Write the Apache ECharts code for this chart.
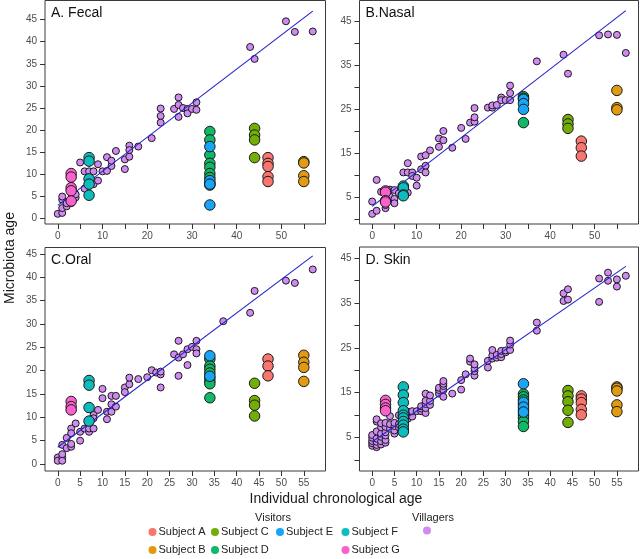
<!DOCTYPE html>
<html>
<head>
<meta charset="utf-8">
<script src="https://cdn.jsdelivr.net/npm/echarts@6/dist/echarts.min.js"></script>
<style>
html,body{margin:0;padding:0;background:#fff;}
#chart{width:640px;height:559px;}
</style>
</head>
<body>
<div id="chart"></div>
<script>
// ---------- DATA ----------
const panelTitles = ['A. Fecal', 'B.Nasal', 'C.Oral', 'D. Skin'];
const subjects = ['Subject A', 'Subject B', 'Subject C', 'Subject D', 'Subject E', 'Subject F', 'Subject G'];
const subjectAges = [47, 55, 44, 34, 34, 7, 3];
const xTicks = [0, 5, 10, 15, 20, 25, 30, 35, 40, 45, 50, 55];
const xLabelsTop = [0, 10, 20, 30, 40, 50];
const xLabelsBottom = [0, 5, 10, 15, 20, 25, 30, 35, 40, 45, 50, 55];
const yTicks = [0, 5, 10, 15, 20, 25, 30, 35, 40, 45];
const yLabelsA = [0, 5, 10, 15, 20, 25, 30, 35, 40, 45];
const yLabelsB = [5, 15, 25, 35, 45];
const yLabelsC = [0, 5, 10, 15, 20, 25, 30, 35, 40, 45];
const yLabelsD = [5, 15, 25, 35, 45];

// villagers: [chronological age, microbiota age]
const villagersFecal = [[0,1.1],[1,1.3],[1,2.4],[1,4.3],[1,5.0],[2,2.8],[2,3.5],[3,3.5],[3,5.8],[3,7.3],[4,4.8],[4,5.5],[5,12.7],[6,6.8],[6,10.7],[7,8.5],[7,10.7],[8,10.7],[8,7.8],[9,8.6],[9,12.3],[10,10.7],[11,10.8],[11,13.9],[12,11.9],[12,13.1],[13,15.3],[15,13.4],[15,11.2],[16,16.5],[16,15.5],[16,14.0],[18,16.3],[21,18.2],[23,24.9],[23,23.2],[23,21.7],[26,24.8],[27,27.4],[27,25.7],[27,23.0],[28,25.0],[29,24.8],[29,23.8],[30,24.8],[31,26.3],[31,24.6],[43,38.8],[44,36.1],[51,44.6],[53,42.2],[57,42.3]];
const villagersNasal = [[0,1.3],[0,4.1],[1,9.0],[1,2.0],[2,6.3],[3,4.5],[3,2.6],[3,3.3],[4,5.2],[4,6.8],[5,4.7],[5,3.7],[5,6.7],[6,6.0],[7,10.7],[8,12.8],[8,10.7],[8,6.1],[9,10.7],[9,9.9],[10,9.5],[10,7.7],[11,14.3],[11,11.4],[12,14.6],[12,12.2],[12,10.7],[13,15.7],[15,16.5],[15,18.4],[16,18.0],[16,20.1],[18,16.3],[20,20.8],[21,18.3],[22,22.0],[23,22.2],[23,23.2],[23,25.3],[26,25.4],[27,25.4],[27,25.9],[28,26.0],[29,27.7],[29,27.1],[30,27.1],[31,30.4],[31,28.7],[31,27.1],[37,35.9],[43,37.4],[44,33.1],[51,41.8],[53,42.0],[55,41.9],[57,37.8]];
const villagersOral = [[0,1.4],[0,0.7],[1,1.4],[1,0.7],[1,2.1],[1,4.1],[2,5.6],[2,3.4],[3,7.6],[3,6.6],[3,3.7],[3,4.3],[4,8.7],[5,5.0],[5,6.9],[6,7.6],[7,6.9],[7,7.6],[8,7.6],[8,10.5],[8,9.8],[9,11.6],[10,16.1],[10,14.1],[11,9.6],[11,11.2],[12,11.2],[12,12.8],[12,14.6],[13,14.6],[13,12.3],[15,16.4],[15,15.4],[16,17.1],[16,18.5],[18,18.2],[20,18.6],[21,20.1],[22,19.6],[23,19.2],[23,16.4],[23,19.8],[26,23.5],[27,26.4],[27,18.9],[27,22.8],[28,23.5],[29,21.2],[29,24.6],[30,25.1],[31,26.4],[31,24.6],[31,23.7],[37,30.6],[43,32.4],[44,37.1],[51,39.3],[53,38.8],[57,41.7]];
const villagersSkin = [[0,3.2],[0,3.8],[0,4.3],[0,5.0],[0,5.6],[1,2.9],[1,3.4],[1,4.1],[1,4.8],[1,6.4],[1,8.6],[1,9.1],[2,3.5],[2,4.2],[2,5.2],[2,5.9],[2,7.3],[2,8.2],[3,3.9],[3,4.5],[3,5.5],[3,6.2],[3,7.4],[3,8.3],[4,7.0],[4,8.0],[4,9.8],[5,5.9],[5,6.6],[5,7.6],[5,8.3],[6,7.3],[6,8.0],[6,10.0],[7,7.6],[8,9.2],[8,10.0],[8,10.8],[9,9.7],[9,10.9],[10,10.9],[11,10.9],[11,11.5],[11,12.0],[12,10.5],[12,11.6],[12,12.5],[12,13.2],[12,14.8],[13,12.3],[13,13.2],[13,14.4],[15,14.8],[15,15.6],[15,16.1],[16,14.1],[16,15.6],[16,16.5],[16,17.0],[16,17.6],[18,14.8],[20,15.7],[20,17.8],[21,19.1],[22,21.9],[22,22.6],[23,18.8],[23,19.8],[23,20.4],[23,21.3],[26,20.6],[26,22.1],[27,22.6],[27,23.3],[27,24.5],[28,22.8],[28,23.4],[29,22.9],[29,23.6],[29,24.3],[30,24.0],[30,24.4],[31,24.5],[31,25.7],[31,26.6],[37,28.8],[37,30.6],[43,35.4],[43,37.1],[44,35.7],[44,38.0],[51,35.2],[51,40.4],[53,39.9],[53,41.7],[55,38.6],[55,40.2],[57,41.0]];

// visitors: microbiota ages per subject (order A..G)
const visitorsFecal = [
  [13.8, 12.5, 11.8, 9.5, 8.4],
  [12.9, 12.6, 9.7, 8.4],
  [20.4, 18.9, 17.8, 13.8],
  [19.7, 17.8, 14.4, 12.5, 11.6, 10.2, 9.3, 8.0, 7.6],
  [16.3, 8.6, 7.8, 3.1],
  [13.8, 13.0, 9.0, 7.8, 5.3],
  [10.2, 9.4, 7.0, 6.3, 4.0]
];
const visitorsNasal = [
  [17.8, 16.3, 14.4],
  [29.3, 25.4, 24.9],
  [22.7, 21.7, 20.7],
  [27.9, 27.5, 22.0],
  [27.3, 26.3, 25.0],
  [7.6, 7.2, 5.6, 5.4],
  [6.5, 6.2, 4.3, 4.0]
];
const visitorsOral = [
  [22.5, 21.0, 18.9],
  [23.3, 21.8, 20.7, 17.7],
  [17.3, 13.6, 12.6, 10.3],
  [22.5, 21.0, 20.3, 19.5, 18.5, 17.8, 17.2, 14.2],
  [23.2, 18.8],
  [17.9, 16.9, 12.1, 9.2],
  [13.4, 12.3, 11.6]
];
const visitorsSkin = [
  [14.3, 13.6, 12.8, 11.3, 10.1],
  [16.3, 16.0, 15.4, 12.3, 10.8],
  [15.5, 14.3, 13.0, 11.1, 8.4],
  [14.7, 14.1, 13.4, 12.4, 11.2, 10.1, 9.4, 8.6, 7.5],
  [17.0, 12.9, 11.8, 10.7],
  [16.3, 14.5, 12.8, 11.0, 10.0, 9.4, 8.6, 7.8, 6.9, 6.3],
  [13.3, 12.4, 11.6, 11.0]
];

// regression lines: [x, y] endpoints
const fitFecal = [[0, 3.0], [57, 46.9]];
const fitNasal = [[0, 3.0], [57, 47.4]];
const fitOral = [[0, 3.6], [57, 44.6]];
const fitSkin = [[0, 4.1], [57, 43.1]];

// ---------- STYLE ----------
const FONT = 'Liberation Sans, Arial, sans-serif';
const subjectColors = ['#F8766D', '#E09B10', '#72AE05', '#10B867', '#19A5F5', '#0DBDBE', '#FB61CC'];
const villagerColor = '#D08BF2';
const fitColor = '#2424CC';

const grids = [
  {left: 45, top: 0.5, width: 280.5, height: 223.5},
  {left: 359.5, top: 0.5, width: 279, height: 223.5},
  {left: 45, top: 247.5, width: 280.5, height: 223.5},
  {left: 359.5, top: 247, width: 279, height: 224}
];
const yRanges = [[-1.2, 49.3], [-1.0, 49.7], [-1.5, 46.4], [-2.4, 47.4]];
const yLabelSets = [yLabelsA, yLabelsB, yLabelsC, yLabelsD];
const xLabelSets = [xLabelsTop, xLabelsTop, xLabelsBottom, xLabelsBottom];
const villagerSets = [villagersFecal, villagersNasal, villagersOral, villagersSkin];
const visitorSets = [visitorsFecal, visitorsNasal, visitorsOral, visitorsSkin];
const fitSets = [fitFecal, fitNasal, fitOral, fitSkin];

const axisLabelStyle = {color: '#4D4D4D', fontSize: 10, fontFamily: FONT};

const option = {
  animation: false,
  backgroundColor: '#fff',
  grid: grids.map(g => Object.assign({show: true, borderColor: '#3a3a3a', borderWidth: 1, backgroundColor: 'transparent'}, g)),
  xAxis: grids.map((g, i) => ({
    type: 'value', gridIndex: i, min: -2.85, max: 59.85, position: 'bottom',
    axisLine: {show: false, onZero: false},
    splitLine: {show: false},
    axisTick: {show: true, length: 5, lineStyle: {color: '#333'}, customValues: xTicks},
    axisLabel: Object.assign({margin: 7, customValues: xLabelSets[i]}, axisLabelStyle)
  })),
  yAxis: grids.map((g, i) => ({
    type: 'value', gridIndex: i, min: yRanges[i][0], max: yRanges[i][1], position: 'left',
    axisLine: {show: false, onZero: false},
    splitLine: {show: false},
    axisTick: {show: true, length: 5, lineStyle: {color: '#333'}, customValues: yTicks},
    axisLabel: Object.assign({margin: 8, customValues: yLabelSets[i]}, axisLabelStyle)
  })),
  series: [],
  legend: [],
  graphic: []
};

for (let p = 0; p < 4; p++) {
  option.series.push({
    name: 'Villagers', type: 'scatter', xAxisIndex: p, yAxisIndex: p,
    data: villagerSets[p], symbolSize: 7,
    itemStyle: {color: villagerColor, borderColor: '#1a1a1a', borderWidth: 1, opacity: 1},
    z: 2
  });
  option.series.push({
    name: 'fit', type: 'line', xAxisIndex: p, yAxisIndex: p,
    data: fitSets[p], symbol: 'none', silent: true,
    lineStyle: {color: fitColor, width: 1.1},
    z: 3
  });
  subjects.forEach((s, k) => {
    option.series.push({
      name: s, type: 'scatter', xAxisIndex: p, yAxisIndex: p,
      data: visitorSets[p][k].map(v => [subjectAges[k], v]),
      symbolSize: 10.5,
      itemStyle: {color: subjectColors[k], borderColor: '#1a1a1a', borderWidth: 1, opacity: 1},
      z: 4
    });
  });
  const g = grids[p];
  option.graphic.push({
    type: 'text', left: g.left + 6, top: g.top + 6,
    style: {text: panelTitles[p], fontSize: 14, fontFamily: FONT, fill: '#111'}
  });
}

// legends: one per item for exact placement
const legendPos = [
  ['Subject A', 148.5, 533], ['Subject B', 148.5, 551],
  ['Subject C', 211, 533], ['Subject D', 211, 551],
  ['Subject E', 276, 533],
  ['Subject F', 341.5, 533], ['Subject G', 341.5, 551],
  ['Villagers', 423, 533]
];
legendPos.forEach(([name, x, y]) => {
  option.legend.push({
    data: [name], left: x, top: y - 6.5, padding: 0,
    icon: 'circle', itemWidth: 8, itemHeight: 8, itemGap: 0,
    selectedMode: false,
    itemStyle: {borderWidth: 0},
    formatter: name === 'Villagers' ? () => '' : '{name}',
    textStyle: {fontSize: 11, fontFamily: FONT, color: '#222', padding: [0, 0, 0, -3]}
  });
});

option.graphic.push(
  {type: 'text', x: 336, y: 499, style: {text: 'Individual chronological age', fontSize: 14, fontFamily: FONT, fill: '#1a1a1a', align: 'center', verticalAlign: 'middle'}},
  {type: 'text', x: 10, y: 258, rotation: Math.PI / 2, style: {text: 'Microbiota age', fontSize: 14, fontFamily: FONT, fill: '#1a1a1a', align: 'center', verticalAlign: 'middle'}},
  {type: 'text', x: 273, y: 517.5, style: {text: 'Visitors', fontSize: 11, fontFamily: FONT, fill: '#222', align: 'center', verticalAlign: 'middle'}},
  {type: 'text', x: 433, y: 517.5, style: {text: 'Villagers', fontSize: 11, fontFamily: FONT, fill: '#222', align: 'center', verticalAlign: 'middle'}}
);

const chart = echarts.init(document.getElementById('chart'), null, {renderer: 'canvas'});
chart.setOption(option);
</script>
</body>
</html>
